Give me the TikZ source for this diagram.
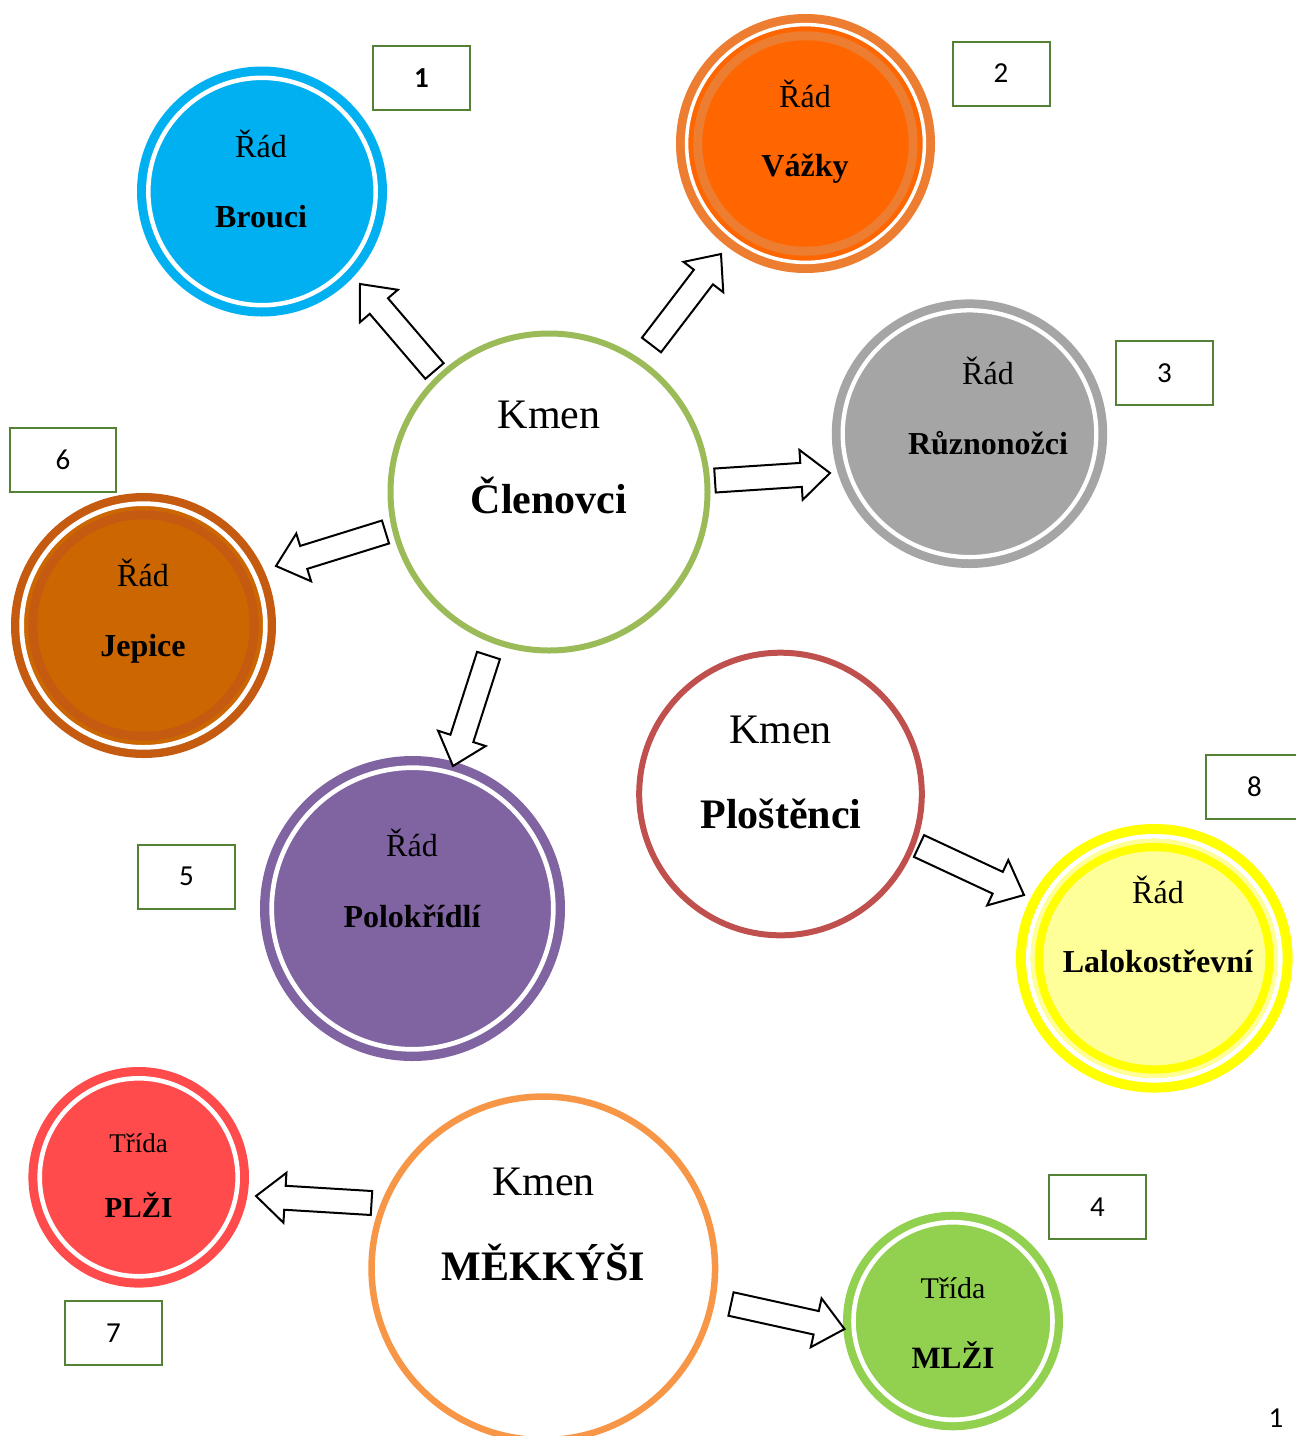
\documentclass[tikz,border=0pt]{standalone}
\usepackage{fontspec}
\setmainfont{Liberation Serif}
\newfontfamily\calibfont{Carlito}
\usetikzlibrary{calc,shapes.geometric}
\definecolor{cBlue}{HTML}{00B0F0}
\definecolor{cOrOut}{HTML}{ED7D31}
\definecolor{cOrIn}{HTML}{FF6600}
\definecolor{cGray}{HTML}{A5A5A5}
\definecolor{cBrDark}{HTML}{C55A11}
\definecolor{cBr}{HTML}{CC6600}
\definecolor{cPurple}{HTML}{8064A2}
\definecolor{cYel}{HTML}{FFFF00}
\definecolor{cYelLight}{HTML}{FFFF99}
\definecolor{cRed}{HTML}{FF4B4B}
\definecolor{cGreen}{HTML}{92D050}
\definecolor{cKmenA}{HTML}{9BBB59}
\definecolor{cKmenB}{HTML}{C0504D}
\definecolor{cKmenC}{HTML}{F79646}
\definecolor{cBox}{HTML}{538135}
\newcommand\blockarrow[2]{%
  \coordinate (ba-h) at ($(#2)!29pt!(#1)$);
  \draw[barrowstyle] ($(#1)!12pt!90:(#2)$) -- ($(ba-h)!12pt!-90:(#1)$) -- ($(ba-h)!25pt!-90:(#1)$) -- (#2) -- ($(ba-h)!25pt!90:(#1)$) -- ($(ba-h)!12pt!90:(#1)$) -- ($(#1)!12pt!-90:(#2)$) -- cycle;}
\begin{document}
\begin{tikzpicture}[x=1pt,y=-1pt,
  barrowstyle/.style={draw=black, line width=2pt, fill=white, line join=miter},
  disc/.style={circle, inner sep=0pt, minimum size=#1},
  kmen/.style={circle, inner sep=0pt, draw, fill=white, minimum size=#1},
  whitering/.style={draw=white, line width=#1},
  small/.style={anchor=base, inner sep=0pt, font=\fontsize{32}{38}\selectfont},
  smallb/.style={anchor=base, inner sep=0pt, font=\fontsize{32}{38}\selectfont\bfseries},
  big/.style={anchor=base, inner sep=0pt, font=\fontsize{42}{48}\selectfont},
  bigb/.style={anchor=base, inner sep=0pt, font=\fontsize{42}{48}\selectfont\bfseries},
  numbox/.style={draw=cBox, line width=2pt, fill=white, minimum height=64pt, minimum width=97pt, inner sep=0pt, font=\calibfont\fontsize{29}{32}\selectfont}]
\useasboundingbox (0,0) rectangle (1296,1436);
\fill[white] (0,0) rectangle (1296,1436);
\clip (0,0) rectangle (1296,1436);

% ---- Brouci
\node[disc=250pt, fill=cBlue] (brouci) at (262,191.5) {};
\draw[whitering=4.5pt] (brouci.center) circle[radius=113.7pt];
\node[small] (brouciA) at (261,157) {Řád};
\node[smallb] (brouciB) at (261,227) {Brouci};

% ---- Vazky
\node[disc=259pt, fill=cOrOut] (vazky) at (805.5,143.5) {};
\fill[cOrIn] (vazky.center) circle[radius=117.2pt];
\draw[whitering=3.5pt] (vazky.center) circle[radius=118.9pt];
\fill[cOrOut] (vazky.center) circle[radius=112.2pt];
\fill[cOrIn] (vazky.center) circle[radius=103.2pt];
\node[small] (vazkyA) at (805,107) {Řád};
\node[smallb] (vazkyB) at (805,176) {Vážky};

% ---- Ruznonozci
\node[ellipse, inner sep=0pt, minimum width=275.4pt, minimum height=268.6pt, fill=cGray] (ruzn) at (969.5,433.7) {};
\draw[whitering=4.3pt] (ruzn.center) ellipse[x radius=126.8pt, y radius=123.4pt];
\node[small] (ruznA) at (988,384) {Řád};
\node[smallb] (ruznB) at (988,454) {Různonožci};

% ---- Jepice
\node[disc=265pt, fill=cBrDark] (jepice) at (143.5,625.5) {};
\fill[cBr] (jepice.center) circle[radius=119.5pt];
\draw[whitering=4.7pt] (jepice.center) circle[radius=121.85pt];
\fill[cBrDark] (jepice.center) circle[radius=115.2pt];
\fill[cBr] (jepice.center) circle[radius=106.2pt];
\node[small] (jepiceA) at (143,586) {Řád};
\node[smallb] (jepiceB) at (143,656) {Jepice};

% ---- Polokridli
\node[disc=305pt, fill=cPurple] (polo) at (412.5,908.5) {};
\draw[whitering=4.7pt] (polo.center) circle[radius=140.8pt];
\node[small] (poloA) at (412,856) {Řád};
\node[smallb] (poloB) at (412,927) {Polokřídlí};

% ---- Lalokostrevni
\node[ellipse, inner sep=0pt, minimum width=276.6pt, minimum height=268.6pt, fill=cYel] (lalo) at (1154.3,958.3) {};
\draw[whitering=4.7pt] (lalo.center) ellipse[x radius=125.95pt, y radius=121.95pt];
\fill[cYelLight] (lalo.center) ellipse[x radius=123.6pt, y radius=119.6pt];
\fill[cYel] (lalo.center) ellipse[x radius=119.3pt, y radius=115.3pt];
\fill[cYelLight] (lalo.center) ellipse[x radius=111pt, y radius=107pt];
\node[small] (laloA) at (1158,903) {Řád};
\node[smallb] (laloB) at (1158,972) {Lalokostřevní};

% ---- PLZI
\node[disc=220.6pt, fill=cRed] (plzi) at (138.7,1177.3) {};
\draw[whitering=4.6pt] (plzi.center) circle[radius=99pt];
\node[anchor=base, inner sep=0pt, font=\fontsize{27}{32}\selectfont] (plziA) at (138.5,1152) {Třída};
\node[anchor=base, inner sep=0pt, font=\fontsize{29}{34}\selectfont\bfseries] (plziB) at (138.5,1217) {PLŽI};

% ---- MLZI
\node[ellipse, inner sep=0pt, minimum width=220pt, minimum height=218.6pt, fill=cGreen] (mlzi) at (953,1321) {};
\draw[whitering=4.6pt] (mlzi.center) ellipse[x radius=99.5pt, y radius=98.8pt];
\node[anchor=base, inner sep=0pt, font=\fontsize{30}{35}\selectfont] (mlziA) at (953,1298) {Třída};
\node[anchor=base, inner sep=0pt, font=\fontsize{31}{36}\selectfont\bfseries] (mlziB) at (953,1368) {MLŽI};

% ---- Kmen circles
\node[kmen=317pt, draw=cKmenA, line width=6pt] (clen) at (549,492) {};
\node[big] (clenA) at (549,428) {Kmen};
\node[bigb] (clenB) at (549,513) {Členovci};

\node[kmen=282.6pt, draw=cKmenB, line width=6pt] (plos) at (780.5,794) {};
\node[big] (plosA) at (780.5,743) {Kmen};
\node[bigb] (plosB) at (781,828) {Ploštěnci};

\node[kmen=343.5pt, draw=cKmenC, line width=6.5pt] (mekk) at (543.3,1268.3) {};
\node[big] (mekkA) at (543.5,1195) {Kmen};
\node[bigb] (mekkB) at (543.5,1280) {MĚKKÝŠI};

% ---- block arrows
\coordinate (t1) at (434.5,371);  \coordinate (p1) at (360,284);
\coordinate (t2) at (651.5,345);  \coordinate (p2) at (721,254);
\coordinate (t3) at (715,480.5);  \coordinate (p3) at (830,473);
\coordinate (t4) at (385.5,532);  \coordinate (p4) at (276,566);
\coordinate (t5) at (488.5,655.5);\coordinate (p5) at (453,766);
\coordinate (t6) at (919,846);    \coordinate (p6) at (1024,895);
\coordinate (t7) at (371.5,1203); \coordinate (p7) at (256,1196);
\coordinate (t8) at (731,1304);   \coordinate (p8) at (844.5,1329);
\blockarrow{t1}{p1}
\blockarrow{t2}{p2}
\blockarrow{t3}{p3}
\blockarrow{t4}{p4}
\blockarrow{t5}{p5}
\blockarrow{t6}{p6}
\blockarrow{t7}{p7}
\blockarrow{t8}{p8}

% ---- number boxes
\node[numbox] (n1) at (421.5,78) {\textbf{1}};
\node[numbox] (n2) at (1001,73.5) {2};
\node[numbox] (n3) at (1164.5,373) {3};
\node[numbox, minimum width=106pt] (n6) at (63,460) {6};
\node[numbox] (n5) at (186.5,876.5) {5};
\node[numbox] (n8) at (1254.5,787) {8};
\node[numbox] (n4) at (1097.5,1207) {4};
\node[numbox] (n7) at (113.5,1333) {7};

\node[anchor=base, inner sep=0pt, font=\calibfont\fontsize{29}{32}\selectfont] (page) at (1276,1427) {1};
\end{tikzpicture}
\end{document}
